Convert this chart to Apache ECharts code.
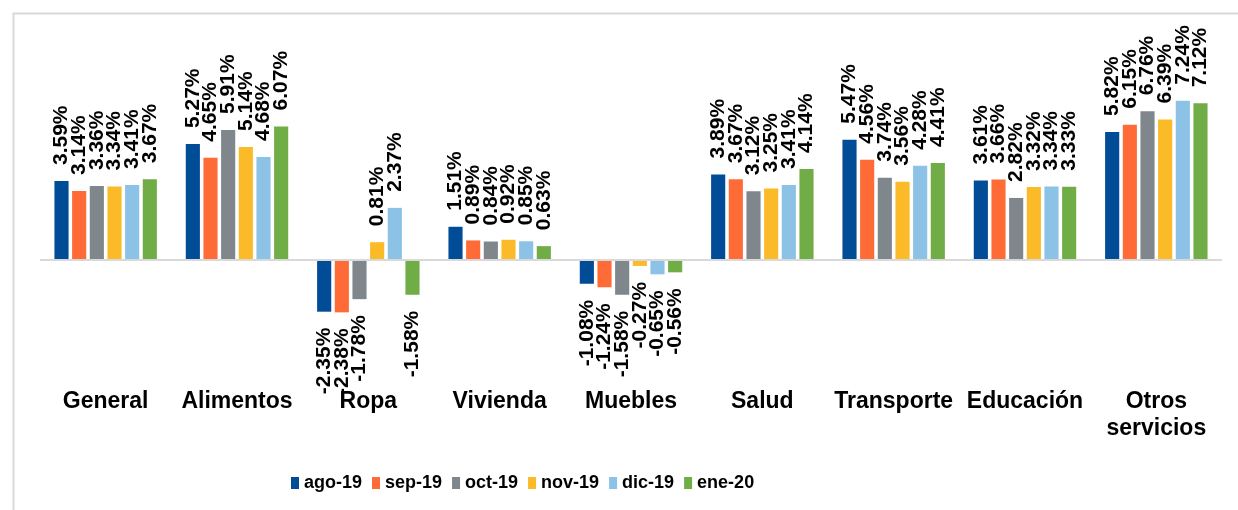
<!DOCTYPE html>
<html>
<head>
<meta charset="utf-8">
<script src="https://cdn.jsdelivr.net/npm/echarts@6/dist/echarts.min.js"></script>
<style>
  html, body { margin: 0; padding: 0; background: #fff; }
  #chart { width: 1238px; height: 510px; }
</style>
</head>
<body>
<div id="chart"></div>
<script>
// categorías (grupos de gasto)
const categories = ['General', 'Alimentos', 'Ropa', 'Vivienda', 'Muebles', 'Salud', 'Transporte', 'Educación', 'Otros\nservicios'];

// variación anual por mes (%)
const ago19 = [3.59, 5.27, -2.35, 1.51, -1.08, 3.89, 5.47, 3.61, 5.82];
const sep19 = [3.14, 4.65, -2.38, 0.89, -1.24, 3.67, 4.56, 3.66, 6.15];
const oct19 = [3.36, 5.91, -1.78, 0.84, -1.58, 3.12, 3.74, 2.82, 6.76];
const nov19 = [3.34, 5.14, 0.81, 0.92, -0.27, 3.25, 3.56, 3.32, 6.39];
const dic19 = [3.41, 4.68, 2.37, 0.85, -0.65, 3.41, 4.28, 3.34, 7.24];
const ene20 = [3.67, 6.07, -1.58, 0.63, -0.56, 4.14, 4.41, 3.33, 7.12];

const seriesNames = ['ago-19', 'sep-19', 'oct-19', 'nov-19', 'dic-19', 'ene-20'];
const seriesValues = [ago19, sep19, oct19, nov19, dic19, ene20];
const colors = ['#004c97', '#ff6b36', '#7f878d', '#fbba28', '#8cc2e6', '#70ad47'];

const FONT = '"Liberation Sans", Arial, sans-serif';

// etiqueta girada: arriba para positivos, abajo para negativos
const toItems = (values) =>
  values.map((v) => ({
    value: v,
    label: {
      position: v < 0 ? 'bottom' : 'top',
      align: v < 0 ? 'right' : 'left',
    },
  }));

const series = seriesNames.map((name, i) => ({
  name,
  type: 'bar',
  data: toItems(seriesValues[i]),
  barGap: '25%',
  barCategoryGap: '22%',
  itemStyle: { color: colors[i] },
  label: {
    show: true,
    rotate: 90,
    distance: 16,
    verticalAlign: 'middle',
    color: '#000',
    fontFamily: FONT,
    fontWeight: 'bold',
    fontSize: 21,
    formatter: (p) => p.value.toFixed(2) + '%',
  },
  ...(i === 0
    ? {
        markLine: {
          silent: true,
          symbol: ['none', 'none'],
          label: { show: false },
          lineStyle: { color: '#d9d9d9', width: 2, type: 'solid' },
          data: [{ yAxis: 0 }],
        },
      }
    : {}),
}));

const chart = echarts.init(document.getElementById('chart'));

chart.setOption({
  animation: false,
  backgroundColor: '#fff',
  color: colors,
  graphic: [
    {
      type: 'rect',
      left: 11,
      top: 11,
      shape: { width: 1400, height: 700 },
      style: { fill: 'none', stroke: '#d9d9d9', lineWidth: 2 },
      silent: true,
    },
  ],
  legend: {
    data: seriesNames,
    left: 286,
    top: 469,
    itemWidth: 8,
    itemHeight: 12,
    itemGap: 10,
    icon: 'rect',
    textStyle: {
      color: '#000',
      fontFamily: FONT,
      fontWeight: 'bold',
      fontSize: 18,
    },
  },
  grid: {
    left: 40,
    right: 16,
    top: 84,
    height: 286,
  },
  xAxis: {
    type: 'category',
    data: categories,
    axisLine: { show: false, onZero: false },
    axisTick: { show: false },
    axisLabel: {
      interval: 0,
      margin: 18,
      color: '#000',
      fontFamily: FONT,
      fontWeight: 'bold',
      fontSize: 23,
      lineHeight: 27,
      verticalAlign: 'top',
    },
  },
  yAxis: {
    type: 'value',
    min: -5,
    max: 8,
    show: false,
    splitLine: { show: false },
  },
  series,
});
</script>
</body>
</html>
